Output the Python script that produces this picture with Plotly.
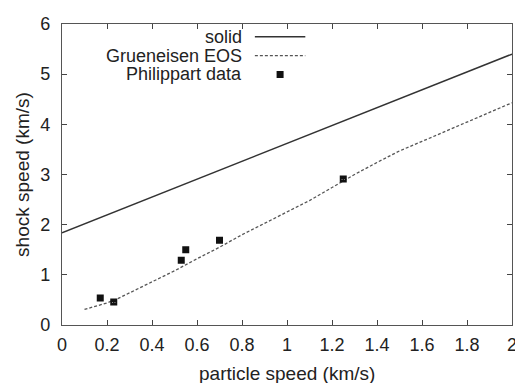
import plotly.graph_objects as go

# ---- data ----
solid_x = [0.0, 2.0]
solid_y = [1.84, 5.40]

eos_x = [0.1, 0.15, 0.2, 0.25, 0.3, 0.4, 0.5, 0.6, 0.7, 0.8, 0.9, 1.0,
         1.1, 1.2, 1.3, 1.4, 1.5, 1.6, 1.7, 1.8, 1.9, 2.0]
eos_y = [0.31, 0.38, 0.44, 0.53, 0.64, 0.86, 1.08, 1.32, 1.55, 1.80, 2.03, 2.25,
         2.48, 2.74, 3.00, 3.24, 3.47, 3.66, 3.85, 4.04, 4.24, 4.43]

data_x = [0.17, 0.23, 0.53, 0.55, 0.70, 1.25]
data_y = [0.54, 0.46, 1.29, 1.50, 1.69, 2.91]

legend_labels = ["solid", "Grueneisen EOS", "Philippart data"]

x_ticks = [0, 0.2, 0.4, 0.6, 0.8, 1, 1.2, 1.4, 1.6, 1.8, 2]
y_ticks = [0, 1, 2, 3, 4, 5, 6]

FONT = "Liberation Sans, Arial, Helvetica, sans-serif"
TXT = "#222222"
LINE_COL = "#333333"
DASH_COL = "#555555"
MARK_COL = "#111111"
MARKER = dict(symbol="square-x-open", size=5, color=MARK_COL,
              line=dict(width=2, color=MARK_COL))

fig = go.Figure()
fig.add_trace(go.Scatter(x=solid_x, y=solid_y, mode="lines",
                         line=dict(color=LINE_COL, width=1.5), showlegend=False))
fig.add_trace(go.Scatter(x=eos_x, y=eos_y, mode="lines",
                         line=dict(color=DASH_COL, width=1.3, dash="3px,2px"),
                         showlegend=False))
fig.add_trace(go.Scatter(x=data_x, y=data_y, mode="markers", marker=MARKER,
                         showlegend=False))

# ---- manual legend (text right-aligned, key on the right, gnuplot style) ----
leg_rows = [0.958, 0.895, 0.8325]
key_x0, key_x1, text_x = 0.4286, 0.5407, 0.402
fig.add_shape(type="line", xref="paper", yref="paper", x0=key_x0, x1=key_x1,
              y0=leg_rows[0], y1=leg_rows[0], line=dict(color=LINE_COL, width=1.5))
fig.add_shape(type="line", xref="paper", yref="paper", x0=key_x0, x1=key_x1,
              y0=leg_rows[1], y1=leg_rows[1],
              line=dict(color=DASH_COL, width=1.3, dash="3px,2px"))
fig.add_trace(go.Scatter(x=[(key_x0 + key_x1) / 2], y=[leg_rows[2]], xaxis="x2", yaxis="y2",
                         mode="markers", marker=MARKER,
                         showlegend=False, hoverinfo="skip"))
for lab, yy in zip(legend_labels, leg_rows):
    fig.add_annotation(text=lab, xref="paper", yref="paper", x=text_x, y=yy,
                       xanchor="right", yanchor="middle", showarrow=False, borderpad=0,
                       font=dict(family=FONT, size=18, color=TXT))

# axis titles as annotations for precise placement
fig.add_annotation(text="particle speed (km/s)", xref="paper", yref="paper",
                   x=0.5, y=-0.16, xanchor="center", yanchor="middle", showarrow=False,
                   borderpad=0, font=dict(family=FONT, size=19, color=TXT))
fig.add_annotation(text="shock speed (km/s)", xref="paper", yref="paper",
                   x=-0.088, y=0.5, xanchor="center", yanchor="middle", showarrow=False,
                   borderpad=0, textangle=-90, font=dict(family=FONT, size=19, color=TXT))

axis_common = dict(showgrid=False, zeroline=False, showline=True, linecolor="#555555",
                   linewidth=1.2, mirror="ticks", ticks="inside", ticklen=5,
                   tickcolor="#444444", tickwidth=1.2,
                   tickfont=dict(family=FONT, size=18, color=TXT))

# page body has an 8px default margin, so the figure is 8px smaller than the window
fig.update_layout(
    width=515, height=375,
    margin=dict(l=54, r=6, t=12, b=58),
    paper_bgcolor="white", plot_bgcolor="white",
    xaxis=dict(range=[0, 2], tickvals=x_ticks, ticktext=[f"{v:g}" for v in x_ticks],
               ticklabelstandoff=3, ticklabeloverflow="allow", **axis_common),
    yaxis=dict(range=[0, 6], tickvals=y_ticks, ticktext=[str(v) for v in y_ticks],
               ticklabelstandoff=7, **axis_common),
    xaxis2=dict(range=[0, 1], overlaying="x", visible=False, fixedrange=True),
    yaxis2=dict(range=[0, 1], overlaying="y", visible=False, fixedrange=True),
)

fig.write_html("out.html")
